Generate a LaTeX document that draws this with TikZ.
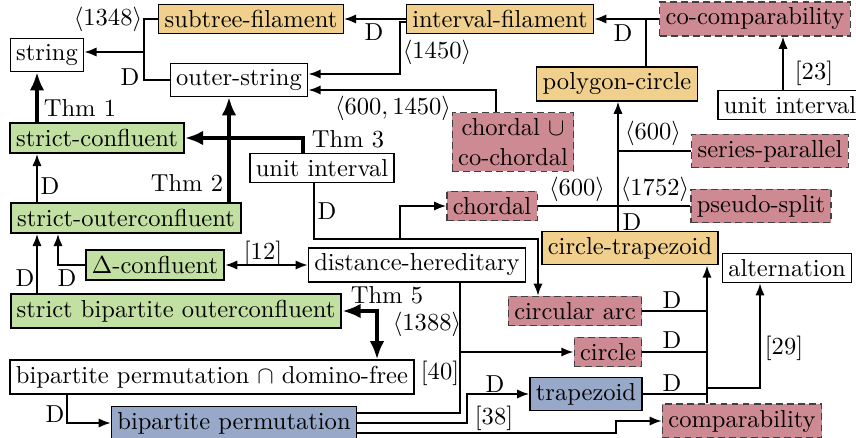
\documentclass[tikz,border=0pt]{standalone}
\usetikzlibrary{arrows.meta}
\definecolor{grn}{RGB}{194,224,162}
\definecolor{tan}{RGB}{240,208,140}
\definecolor{pnk}{RGB}{206,138,146}
\definecolor{blu}{RGB}{151,168,200}
\begin{document}
\begin{tikzpicture}[x=.01433cm,y=-.01433cm]
\tikzstyle{every node}=[inner sep=2.4pt]
\tikzstyle{cls}=[draw, line width=.5pt]
\tikzstyle{ours}=[draw, line width=.9pt, fill=grn]
\tikzstyle{known}=[draw, line width=.5pt, fill=tan]
\tikzstyle{hard}=[draw=black!75, line width=.5pt, dash pattern=on 2.8pt off 1.7pt, fill=pnk]
\tikzstyle{easy}=[draw, line width=.5pt, fill=blu]
\tikzstyle{conn}=[line width=.85pt, >={Latex[length=5pt,width=3.8pt]}]
\tikzstyle{thm}=[line width=2pt, >={Latex[length=7.5pt,width=6pt]}]
\tikzstyle{lbl}=[inner sep=1pt]
\useasboundingbox (0,0) rectangle (856,438);
% classes
\draw (47,55) node (str) [cls] {string};
\draw (251,19) node (subfil) [known] {subtree-filament};
\draw (500,19) node (intfil) [known] {interval-filament};
\draw (755,19) node (cocomp) [hard] {co-comparability};
\draw (239,80) node (outstr) [cls] {outer-string};
\draw (617,84) node (polyc) [known] {polygon-circle};
\draw (790,105) node (uiright) [cls] {unit interval};
\draw (513,142) node (chcoch) [hard, align=center] {chordal $\cup$\\co-chordal};
\draw (770,151) node (serpar) [hard] {series-parallel};
\draw (97,138) node (sconf) [ours] {strict-confluent};
\draw (322,168) node (uimid) [cls] {unit interval};
\draw (492,206) node (chord) [hard] {chordal};
\draw (761,206) node (psplit) [hard] {pseudo-split};
\draw (126,218) node (souter) [ours] {strict-outerconfluent};
\draw (630,248) node (ctrap) [known] {circle-trapezoid};
\draw (155,265) node (dconf) [ours] {$\Delta$-confluent};
\draw (417,265) node (dhered) [cls] {distance-hereditary};
\draw (787,268) node (alt) [cls] {alternation};
\draw (176,311) node (sbip) [ours] {strict bipartite outerconfluent};
\draw (575,311) node (carc) [hard] {circular arc};
\draw (608,352) node (circ) [hard] {circle};
\draw (212,377) node (bpdf) [cls] {bipartite permutation $\cap$ domino-free};
\draw (586,394) node (trap) [easy] {trapezoid};
\draw (234,423) node (bperm) [easy] {bipartite permutation};
\draw (742,421) node (comp) [hard] {comparability};
% junctions
\coordinate (jfil) at (646,19);
\coordinate (jstr) at (144,52);
\coordinate (jui) at (400,239);
\coordinate (jdh) at (460,352);
\coordinate (jbp) at (467,423);
\coordinate (jalt) at (707,388);
% top part
\draw[conn,->] (intfil) -- (subfil);
\draw[conn,->] (cocomp) -- (intfil);
\draw[conn] (polyc.north -| jfil) -- (jfil);
\draw[conn] (subfil.west) -| (jstr);
\draw[conn] (outstr.west) -| (jstr);
\draw[conn,->] (jstr) -- (str.east |- jstr);
\draw[conn,->] (intfil.west |- 0,22) -- (400,22) |- (outstr.east |- 0,74);
\draw[conn,->] (chcoch.north -| 496,0) |- (outstr.east |- 0,90);
\draw[conn,->] (uiright.north -| 783,0) -- (cocomp.south -| 783,0);
\draw[conn,->] (ctrap.north -| 618,0) -- (polyc.south -| 618,0);
\draw[conn] (serpar.west) -- (serpar.west -| 618,0);
\draw[conn] (chord.east) -- (psplit.west);
% theorems
\draw[thm,->] (sconf.north -| 37,0) -- (str.south -| 37,0);
\draw[thm,->] (uimid.north -| 303,0) |- (sconf.east);
\draw[thm,->] (souter.north -| 229,0) -- (outstr.south -| 229,0);
\draw[thm,<->] (sbip.east) -| (bpdf.north -| 377,0);
% left part
\draw[conn,->] (souter.north -| 37,0) -- (sconf.south -| 37,0);
\draw[conn,->] (sbip.north -| 37,0) -- (souter.south -| 37,0);
\draw[conn,->] (dconf.west) -| (souter.south -| 58,0);
\draw[conn,<->] (dconf) -- (dhered);
\draw[conn,->] (bpdf.south -| 67,0) |- (bperm.west);
% middle part
\draw[conn,->] (uimid.south -| 314,0) |- (jui) |- (chord.west);
\draw[conn,->] (jui) -| (carc.north -| 538,0);
\draw[conn,->] (dhered.south -| jdh) |- (circ.west);
\draw[conn] (bperm.east |- 0,413) -| (jdh);
\draw[conn,->] (bperm.east) -- (jbp) |- (trap.west);
\draw[conn,->] (bperm.east |- 0,433) -| (comp.west -| 616,0) -- (comp.west);
% right part
\draw[conn,->] (comp.north -| 707,0) -- (ctrap.south -| 707,0);
\draw[conn] (carc.east) -- (carc.east -| 707,0);
\draw[conn] (circ.east) -- (circ.east -| 707,0);
\draw[conn] (trap.east) -- (trap.east -| 707,0);
\draw[conn,->] (jalt) -| (alt.south -| 760,0);
% labels
\draw (108,19) node (l1348) [lbl] {$\langle 1348\rangle$};
\draw (130,77) node (dstr) [lbl] {D};
\draw (374,32) node (dfil) [lbl] {D};
\draw (623,33) node (dpoly) [lbl] {D};
\draw (437,52) node (l1450) [lbl] {$\langle 1450\rangle$};
\draw (393,108) node (l6001450) [lbl] {$\langle 600, 1450\rangle$};
\draw (814,73) node (r23) [lbl] {[23]};
\draw (653,133) node (l600a) [lbl] {$\langle 600\rangle$};
\draw (577,189) node (l600b) [lbl] {$\langle 600\rangle$};
\draw (655,189) node (l1752) [lbl] {$\langle 1752\rangle$};
\draw (632,222) node (dctrap) [lbl] {D};
\draw (80,108) node (thma) [lbl] {Thm 1};
\draw (187,183) node (thmb) [lbl] {Thm 2};
\draw (348,139) node (thmc) [lbl] {Thm 3};
\draw (387,295) node (thme) [lbl] {Thm 5};
\draw (50,186) node (dsconf) [lbl] {D};
\draw (25,278) node (dsbip) [lbl] {D};
\draw (67,278) node (ddconf) [lbl] {D};
\draw (263,253) node (r12) [lbl] {[12]};
\draw (327,211) node (dui) [lbl] {D};
\draw (427,324) node (l1388) [lbl] {$\langle 1388\rangle$};
\draw (440,373) node (r40) [lbl] {[40]};
\draw (495,384) node (dtrap) [lbl] {D};
\draw (494,418) node (r38) [lbl] {[38]};
\draw (55,414) node (dbp) [lbl] {D};
\draw (672,300) node (dcarc) [lbl] {D};
\draw (672,340) node (dcirc) [lbl] {D};
\draw (672,383) node (dtrapb) [lbl] {D};
\draw (784,348) node (r29) [lbl] {[29]};
\end{tikzpicture}
\end{document}
